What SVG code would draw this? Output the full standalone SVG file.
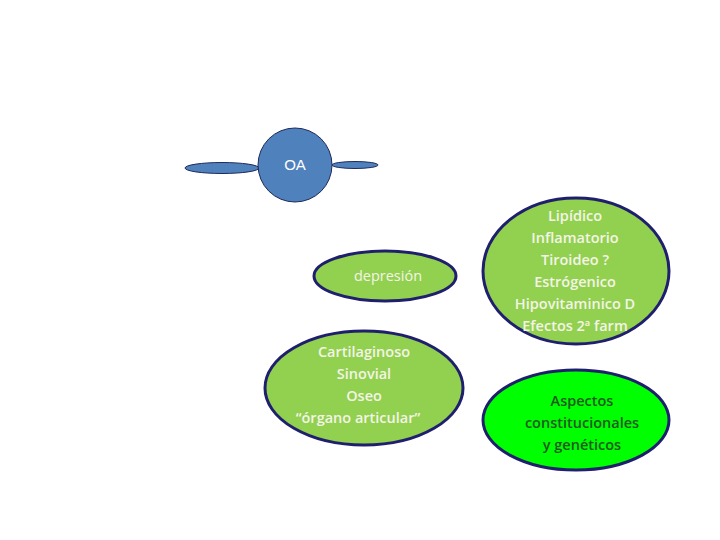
<svg xmlns="http://www.w3.org/2000/svg" width="720" height="540" viewBox="0 0 720 540">
<style>
.blue{fill:#4f81bd;stroke:#1f2a5a;stroke-width:1}
.green{fill:#92d050;stroke:#1f1f6e;stroke-width:3}
.lime{fill:#00ff00;stroke:#1f1f6e;stroke-width:3}
.t{font-family:"Open Sans","Liberation Sans",sans-serif;font-size:14.5px;font-weight:600;text-anchor:middle;fill:#f4f4e6}
.d{fill:#1e5a1e}
</style>
<rect width="720" height="540" fill="#ffffff"/>
<g id="connectors"></g>
<g id="left-bar"><ellipse class="blue" cx="222" cy="168" rx="37" ry="5.5"/></g>
<g id="right-bar"><ellipse class="blue" cx="355" cy="165" rx="23" ry="3.5"/></g>
<g id="oa"><circle class="blue" cx="295" cy="165" r="37"/><text class="t" x="295" y="170" style="font-family:'Liberation Sans',sans-serif;font-size:15px;font-weight:normal;fill:#ffffff">OA</text></g>
<g id="depresion"><ellipse class="green" cx="385" cy="276" rx="71" ry="25"/><text class="t" x="388" y="281" style="font-weight:500">depresión</text></g>
<g id="organo"><ellipse class="green" cx="364" cy="388" rx="99" ry="57"/>
<text class="t" x="364" y="357">Cartilaginoso</text>
<text class="t" x="364" y="379">Sinovial</text>
<text class="t" x="364" y="401">Oseo</text>
<text class="t" x="358" y="423">“órgano articular”</text></g>
<g id="factores"><ellipse class="green" cx="576" cy="271" rx="93" ry="73"/>
<text class="t" x="575" y="221">Lipídico</text>
<text class="t" x="575" y="243">Inflamatorio</text>
<text class="t" x="575" y="265">Tiroideo ?</text>
<text class="t" x="575" y="287">Estrógenico</text>
<text class="t" x="575" y="309">Hipovitaminico D</text>
<text class="t" x="575" y="331">Efectos 2ª farm</text></g>
<g id="aspectos"><ellipse class="lime" cx="576" cy="420" rx="93" ry="50"/>
<text class="t d" x="582" y="406">Aspectos</text>
<text class="t d" x="582" y="428">constitucionales</text>
<text class="t d" x="582" y="450">y genéticos</text></g>
</svg>
